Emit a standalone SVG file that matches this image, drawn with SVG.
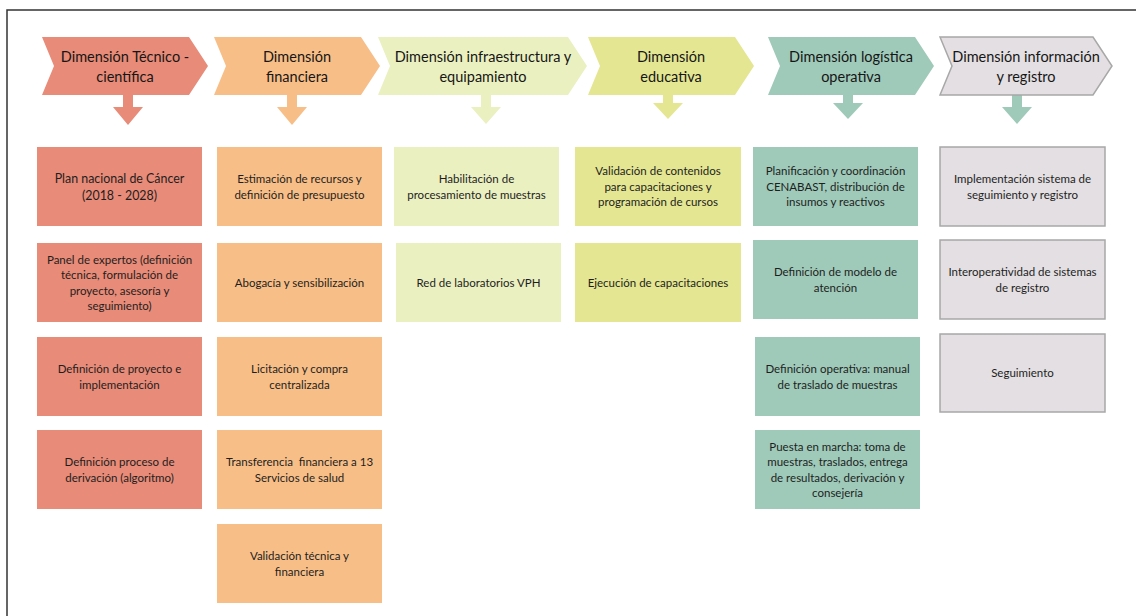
<svg xmlns="http://www.w3.org/2000/svg" width="1136" height="616" viewBox="0 0 1136 616">
<style>
.hd{font-family:Lato,"Liberation Sans",sans-serif;font-size:14.5px;fill:#161616;text-anchor:middle}
.tx{font-family:Lato,"Liberation Sans",sans-serif;font-size:11.5px;fill:#1e1e1e;text-anchor:middle}
.big{font-size:12.4px}
.red{fill:#E88B78}
.ora{fill:#F8BE87}
.pgr{fill:#EBF0C1}
.edu{fill:#E4E692}
.tea{fill:#9FCAB9}
.gry{fill:#E3DFE2;stroke:#A8A8A8;stroke-width:1.5}
</style>
<rect x="0" y="0" width="1136" height="616" fill="#fff"/>
<rect x="7" y="10" width="1200" height="700" fill="none" stroke="#333" stroke-width="1.5"/>

<g id="connectors">
<path class="red" d="M123,95 H133 V107 H143 L128,125 L113,107 H123 Z"/>
<path class="ora" d="M287,95 H297 V107 H307 L292,125 L277,107 H287 Z"/>
<path class="pgr" d="M481,95 H491 V107 H501 L486,124 L471,107 H481 Z"/>
<path class="edu" d="M663,95 H673 V103 H683 L668,119 L653,103 H663 Z"/>
<path class="tea" d="M843,95 H853 V103 H863 L848,119 L833,103 H843 Z"/>
<path class="tea" d="M1012,95 H1022 V107 H1032 L1017,124 L1002,107 H1012 Z"/>
</g>

<g id="h1"><path class="red" d="M42,37 H189 L208,66 L189,95 H42 L54,66 Z"/>
<text class="hd" x="125" y="62">Dimensión Técnico -</text><text class="hd" x="125" y="82">científica</text></g>
<g id="h2"><path class="ora" d="M214,37 H361 L380,66 L361,95 H214 L226,66 Z"/>
<text class="hd" x="297" y="62">Dimensión</text><text class="hd" x="297" y="82">financiera</text></g>
<g id="h3"><path class="pgr" d="M378,37 H568 L587,66 L568,95 H378 L390,66 Z"/>
<text class="hd" x="483" y="62">Dimensión infraestructura y</text><text class="hd" x="483" y="82">equipamiento</text></g>
<g id="h4"><path class="edu" d="M588,37 H735 L754,66 L735,95 H588 L600,66 Z"/>
<text class="hd" x="671" y="62">Dimensión</text><text class="hd" x="671" y="82">educativa</text></g>
<g id="h5"><path class="tea" d="M768,37 H915 L934,66 L915,95 H768 L780,66 Z"/>
<text class="hd" x="851" y="62">Dimensión logística</text><text class="hd" x="851" y="82">operativa</text></g>
<g id="h6"><path class="gry" d="M940,37 H1093 L1112,66 L1093,95 H940 L952,66 Z"/>
<text class="hd" x="1026" y="62">Dimensión información</text><text class="hd" x="1026" y="82">y registro</text></g>

<g id="c1b1"><rect class="red" x="37" y="147" width="165" height="79"/>
<text class="tx big" x="119.5" y="183"><tspan x="119.5">Plan nacional de Cáncer</tspan><tspan x="119.5" dy="17">(2018 - 2028)</tspan></text></g>
<g id="c1b2"><rect class="red" x="37" y="243" width="165" height="79"/>
<text class="tx" x="119.5" y="263.5"><tspan x="119.5">Panel de expertos (definición</tspan><tspan x="119.5" dy="15.6">técnica, formulación de</tspan><tspan x="119.5" dy="15.6">proyecto, asesoría y</tspan><tspan x="119.5" dy="15.6">seguimiento)</tspan></text></g>
<g id="c1b3"><rect class="red" x="37" y="337" width="165" height="79"/>
<text class="tx" x="119.5" y="373"><tspan x="119.5">Definición de proyecto e</tspan><tspan x="119.5" dy="15.6">implementación</tspan></text></g>
<g id="c1b4"><rect class="red" x="37" y="430" width="165" height="79"/>
<text class="tx" x="119.5" y="466"><tspan x="119.5">Definición proceso de</tspan><tspan x="119.5" dy="15.6">derivación (algoritmo)</tspan></text></g>

<g id="c2b1"><rect class="ora" x="217" y="147" width="165" height="79"/>
<text class="tx" x="299.5" y="183"><tspan x="299.5">Estimación de recursos y</tspan><tspan x="299.5" dy="15.6">definición de presupuesto</tspan></text></g>
<g id="c2b2"><rect class="ora" x="217" y="243" width="165" height="79"/>
<text class="tx" x="299.5" y="286.7">Abogacía y sensibilización</text></g>
<g id="c2b3"><rect class="ora" x="217" y="337" width="165" height="79"/>
<text class="tx" x="299.5" y="373"><tspan x="299.5">Licitación y compra</tspan><tspan x="299.5" dy="15.6">centralizada</tspan></text></g>
<g id="c2b4"><rect class="ora" x="217" y="430" width="165" height="79"/>
<text class="tx" x="299.5" y="466" xml:space="preserve"><tspan x="299.5">Transferencia  financiera a 13</tspan><tspan x="299.5" dy="15.6">Servicios de salud</tspan></text></g>
<g id="c2b5"><rect class="ora" x="217" y="524" width="165" height="79"/>
<text class="tx" x="299.5" y="560"><tspan x="299.5">Validación técnica y</tspan><tspan x="299.5" dy="15.6">financiera</tspan></text></g>

<g id="c3b1"><rect class="pgr" x="394" y="147" width="165" height="79"/>
<text class="tx" x="476.5" y="183"><tspan x="476.5">Habilitación de</tspan><tspan x="476.5" dy="15.6">procesamiento de muestras</tspan></text></g>
<g id="c3b2"><rect class="pgr" x="396" y="243" width="165" height="79"/>
<text class="tx" x="478.5" y="286.7">Red de laboratorios VPH</text></g>

<g id="c4b1"><rect class="edu" x="575" y="147" width="166" height="79"/>
<text class="tx" x="658" y="175.2"><tspan x="658">Validación de contenidos</tspan><tspan x="658" dy="15.6">para capacitaciones y</tspan><tspan x="658" dy="15.6">programación de cursos</tspan></text></g>
<g id="c4b2"><rect class="edu" x="575" y="243" width="166" height="79"/>
<text class="tx" x="658" y="286.7">Ejecución de capacitaciones</text></g>

<g id="c5b1"><rect class="tea" x="753" y="147" width="165" height="79"/>
<text class="tx" x="835.5" y="175.2"><tspan x="835.5">Planificación y coordinación</tspan><tspan x="835.5" dy="15.6">CENABAST, distribución de</tspan><tspan x="835.5" dy="15.6">insumos y reactivos</tspan></text></g>
<g id="c5b2"><rect class="tea" x="753" y="240" width="165" height="79"/>
<text class="tx" x="835.5" y="276"><tspan x="835.5">Definición de modelo de</tspan><tspan x="835.5" dy="15.6">atención</tspan></text></g>
<g id="c5b3"><rect class="tea" x="755" y="337" width="165" height="79"/>
<text class="tx" x="837.5" y="373"><tspan x="837.5">Definición operativa: manual</tspan><tspan x="837.5" dy="15.6">de traslado de muestras</tspan></text></g>
<g id="c5b4"><rect class="tea" x="755" y="430" width="165" height="79"/>
<text class="tx" x="837.5" y="450.5"><tspan x="837.5">Puesta en marcha: toma de</tspan><tspan x="837.5" dy="15.6">muestras, traslados, entrega</tspan><tspan x="837.5" dy="15.6">de resultados, derivación y</tspan><tspan x="837.5" dy="15.6">consejería</tspan></text></g>

<g id="c6b1"><rect class="gry" x="940" y="147" width="165" height="79"/>
<text class="tx" x="1022.5" y="183"><tspan x="1022.5">Implementación sistema de</tspan><tspan x="1022.5" dy="15.6">seguimiento y registro</tspan></text></g>
<g id="c6b2"><rect class="gry" x="940" y="240" width="165" height="79"/>
<text class="tx" x="1022.5" y="276"><tspan x="1022.5">Interoperatividad de sistemas</tspan><tspan x="1022.5" dy="15.6">de registro</tspan></text></g>
<g id="c6b3"><rect class="gry" x="940" y="334" width="165" height="78"/>
<text class="tx" x="1022.5" y="377.2">Seguimiento</text></g>
</svg>
